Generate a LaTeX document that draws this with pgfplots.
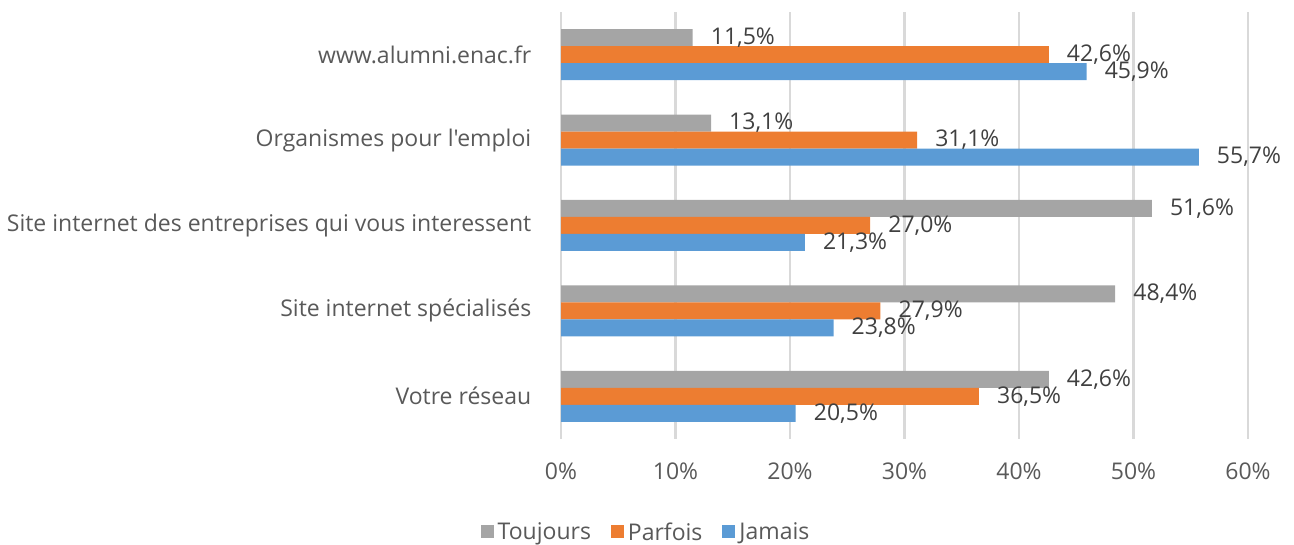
\documentclass[border=0pt]{standalone}
\usepackage{fontspec}
\setmainfont{Open Sans}[Ligatures=TeXOff]
\usepackage{pgfplots}
\pgfplotsset{compat=1.18}
\definecolor{cgray}{HTML}{A5A5A5}
\definecolor{corange}{HTML}{ED7D31}
\definecolor{cblue}{HTML}{5B9BD5}
\definecolor{cgrid}{HTML}{D9D9D9}
\definecolor{ctxt}{HTML}{595959}
\definecolor{clab}{HTML}{404040}
\begin{document}
\begin{tikzpicture}[x=1bp,y=1bp]
\useasboundingbox (0,0) rectangle (1294,545);
\begin{axis}[
  at={(561bp,106bp)}, anchor=south west,
  scale only axis, width=687bp, height=427bp,
  xbar, bar width=17bp,
  xmin=0, xmax=60, ymin=-0.5, ymax=4.5,
  xtick={0,10,...,60},
  /pgf/number format/assume math mode=true,
  xticklabel={\pgfmathprintnumber{\tick}\%},
  ytick={0,1,2,3,4},
  yticklabels={Votre réseau,Site internet spécialisés,Site internet des entreprises qui vous interessent,Organismes pour l'emploi,www.alumni.enac.fr},
  xmajorgrids, major grid style={cgrid, line width=2.5bp},
  axis line style={draw=none},
  tick style={draw=none},
  every tick label/.append style={font=\fontsize{23bp}{27bp}\selectfont, text=ctxt},
  xticklabel style={yshift=-20bp},
  yticklabel style={xshift=-22bp},
  point meta=x,
  nodes near coords={\pgfmathprintnumber[fixed,fixed zerofill,precision=1,use comma,assume math mode=true]{\pgfplotspointmeta}\%},
  nodes near coords style={anchor=west, inner sep=0pt, xshift=18bp, font=\fontsize{23bp}{27bp}\selectfont, text=clab},
  legend style={at={(0.1252,-0.2178)}, anchor=center, draw=none, legend columns=-1,
    font=\fontsize{23bp}{27bp}\selectfont, text=ctxt, inner sep=0pt,
    nodes={inner xsep=4bp},
    /tikz/every even column/.append style={column sep=16bp}},
  legend image code/.code={\fill[#1] (0bp,-6bp) rectangle (13bp,7bp);},
  clip=false,
]
\addplot[fill=cgray, draw=none, bar shift=17bp] coordinates {(42.6,0) (48.4,1) (51.6,2) (13.1,3) (11.5,4)};
\addplot[fill=corange, draw=none, bar shift=0bp] coordinates {(36.5,0) (27.9,1) (27.0,2) (31.1,3) (42.6,4)};
\addplot[fill=cblue, draw=none, bar shift=-17bp] coordinates {(20.5,0) (23.8,1) (21.3,2) (55.7,3) (45.9,4)};
\legend{Toujours,Parfois,Jamais}
\end{axis}
\end{tikzpicture}
\end{document}
